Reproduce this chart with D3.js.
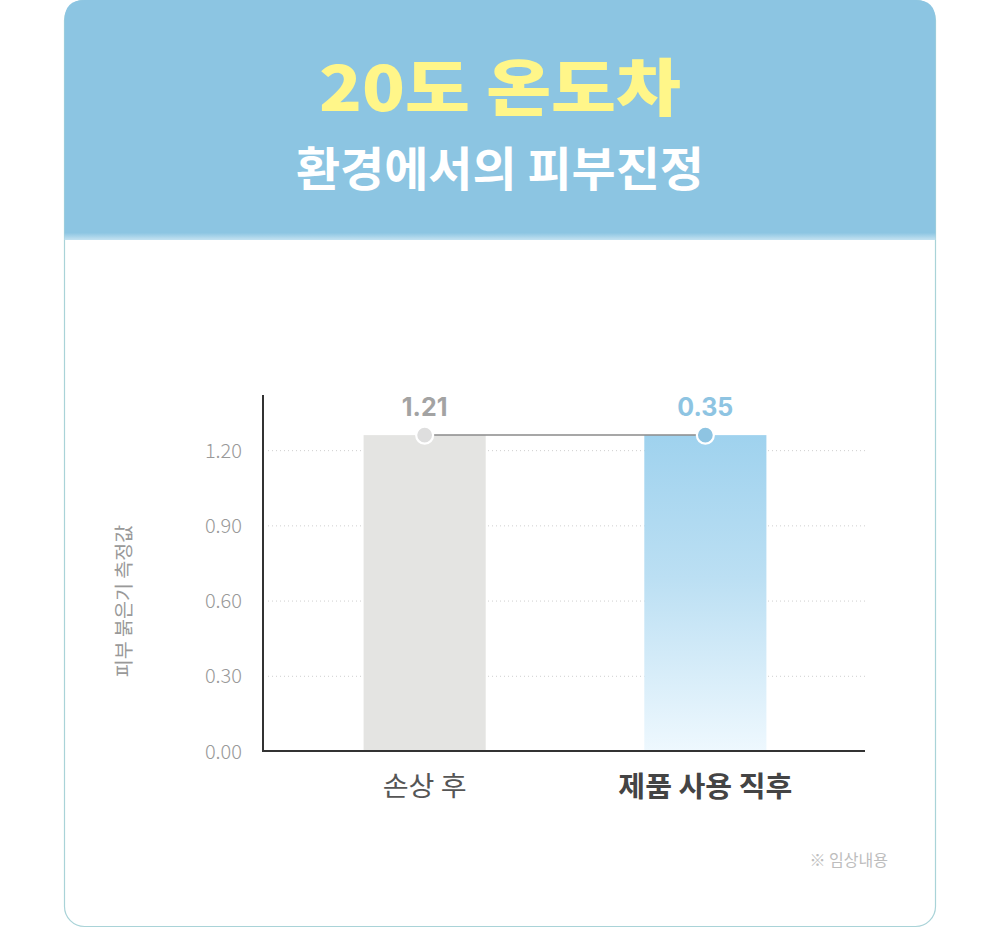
<!DOCTYPE html>
<html><head><meta charset="utf-8">
<script src="https://cdn.jsdelivr.net/npm/d3@7"></script>
<style>
html,body{margin:0;padding:0;background:#fff;}
svg{display:block;font-family:"Noto Sans CJK KR","Noto Sans",sans-serif;}
</style></head>
<body>
<svg id="chart" width="1000" height="928"></svg>
<script>
const titleLine1 = "20도 온도차";
const titleLine2 = "환경에서의 피부진정";
const categories = ["손상 후", "제품 사용 직후"];
const barLevels = [1.26, 1.26];
const valueLabels = ["1.21", "0.35"];
const yTicks = [0, 0.3, 0.6, 0.9, 1.2];
const yAxisTitle = "피부 붉은기 측정값";
const footnote = "※ 임상내용";

const svg = d3.select("#chart");
const defs = svg.append("defs");

// card
const cardX = 64.5, cardW = 871, cardTop = 0.5, cardBot = 926.5, r = 20;
svg.append("rect").attr("x", cardX).attr("y", cardTop).attr("width", cardW).attr("height", cardBot - cardTop)
  .attr("rx", r).attr("fill", "#fff").attr("stroke", "#a9d3d8").attr("stroke-width", 1.2);

// header
const hg = defs.append("linearGradient").attr("id", "hdr").attr("x1", 0).attr("y1", 0).attr("x2", 0).attr("y2", 1);
hg.append("stop").attr("offset", "0").attr("stop-color", "#8cc5e2");
hg.append("stop").attr("offset", "0.97").attr("stop-color", "#8cc5e2");
hg.append("stop").attr("offset", "1").attr("stop-color", "#c4e2f1");
const hTop = 0, hBot = 240;
svg.append("path")
  .attr("d", `M${cardX},${hBot} L${cardX},${hTop + r} Q${cardX},${hTop} ${cardX + r},${hTop} L${cardX + cardW - r},${hTop} Q${cardX + cardW},${hTop} ${cardX + cardW},${hTop + r} L${cardX + cardW},${hBot} Z`)
  .attr("fill", "url(#hdr)");

svg.append("text").attr("x", 500).attr("y", 111).attr("text-anchor", "middle")
  .attr("font-size", 62).attr("font-weight", 900).attr("fill", "#fff689")
  .attr("textLength", 362).attr("lengthAdjust", "spacingAndGlyphs")
  .text(titleLine1);
svg.append("text").attr("x", 500).attr("y", 186).attr("text-anchor", "middle")
  .attr("font-size", 47).attr("font-weight", 700).attr("fill", "#ffffff")
  .attr("textLength", 408).attr("lengthAdjust", "spacingAndGlyphs")
  .text(titleLine2);

// scales
const y = d3.scaleLinear().domain([0, 1.42]).range([751, 395]);
const x = d3.scaleBand().domain(categories).range([285, 845]).paddingInner(0.565).paddingOuter(0.28);

// grid
const grid = svg.append("g").attr("transform", "translate(865,0)")
  .call(d3.axisLeft(y).tickValues(yTicks.filter(d => d > 0)).tickSize(0).tickFormat(""));
grid.select(".domain").remove();
grid.selectAll("line").attr("x1", 0).attr("x2", -600)
  .attr("stroke", "#cfcfcf").attr("stroke-width", 1).attr("stroke-dasharray", "1,3");

// bars
const bg = defs.append("linearGradient").attr("id", "bar2").attr("x1", 0).attr("y1", 0).attr("x2", 0).attr("y2", 1);
bg.append("stop").attr("offset", "0").attr("stop-color", "#9fd2ee");
bg.append("stop").attr("offset", "0.45").attr("stop-color", "#bbdff3");
bg.append("stop").attr("offset", "1").attr("stop-color", "#eef8fe");
const barFill = ["#e4e4e2", "url(#bar2)"];
svg.append("g").selectAll("rect").data(categories).join("rect")
  .attr("x", d => x(d)).attr("width", x.bandwidth())
  .attr("y", (d, i) => y(barLevels[i])).attr("height", (d, i) => y(0) - y(barLevels[i]))
  .attr("fill", (d, i) => barFill[i]);

// axes
const yAx = svg.append("g").attr("transform", "translate(263,0)")
  .call(d3.axisLeft(y).tickValues(yTicks).tickSize(0).tickPadding(21).tickFormat(d3.format(".2f")));
yAx.select(".domain").attr("d", `M0,${y(1.42)}V${y(0)}`).attr("stroke", "#333").attr("stroke-width", 2);
yAx.selectAll("text").attr("font-size", 20).attr("font-weight", 300).attr("fill", "#999")
  .attr("font-family", "'Noto Sans CJK KR',sans-serif").attr("dy", "0.35em");

const xAx = svg.append("g").attr("transform", "translate(0,751)")
  .call(d3.axisBottom(x).tickSize(0).tickPadding(26));
xAx.select(".domain").attr("d", "M262,0H865").attr("stroke", "#333").attr("stroke-width", 2.2);
xAx.selectAll("text").attr("font-family", "'Noto Sans CJK KR',sans-serif")
  .attr("font-size", (d, i) => i === 0 ? 27 : 28)
  .attr("fill", (d, i) => i === 0 ? "#555" : "#444")
  .attr("font-weight", (d, i) => i === 0 ? 400 : 700)
  .attr("textLength", (d, i) => i === 0 ? 84 : 174).attr("lengthAdjust", "spacingAndGlyphs");

// y title
svg.append("text").attr("transform", `translate(131,601) rotate(-90)`).attr("text-anchor", "middle")
  .attr("font-size", 19.5).attr("fill", "#999").text(yAxisTitle);

// connector line and markers
const cx = categories.map(c => x(c) + x.bandwidth() / 2);
svg.append("line").attr("x1", cx[0]).attr("x2", cx[1]).attr("y1", y(barLevels[0])).attr("y2", y(barLevels[1]))
  .attr("stroke", "#8a8a8a").attr("stroke-width", 1.5);
const dotFill = ["#dedede", "#8ec4e2"];
svg.append("g").selectAll("circle").data(categories).join("circle")
  .attr("cx", (d, i) => cx[i]).attr("cy", (d, i) => y(barLevels[i])).attr("r", 8.5)
  .attr("fill", (d, i) => dotFill[i]).attr("stroke", "#fff").attr("stroke-width", 2.2);

const labelFill = ["#a3a3a3", "#8ec4e2"];
svg.append("g").selectAll("text").data(valueLabels).join("text")
  .attr("x", (d, i) => cx[i]).attr("y", (d, i) => y(barLevels[i]) - 19)
  .attr("text-anchor", "middle").attr("font-size", 25).attr("font-weight", 700)
  .attr("font-family", "Inter, 'Noto Sans', sans-serif")
  .attr("fill", (d, i) => labelFill[i]).text(d => d);

svg.append("text").attr("x", 888).attr("y", 866).attr("text-anchor", "end")
  .attr("font-size", 16).attr("fill", "#bdbdbd").text(footnote);
</script>
</body></html>
